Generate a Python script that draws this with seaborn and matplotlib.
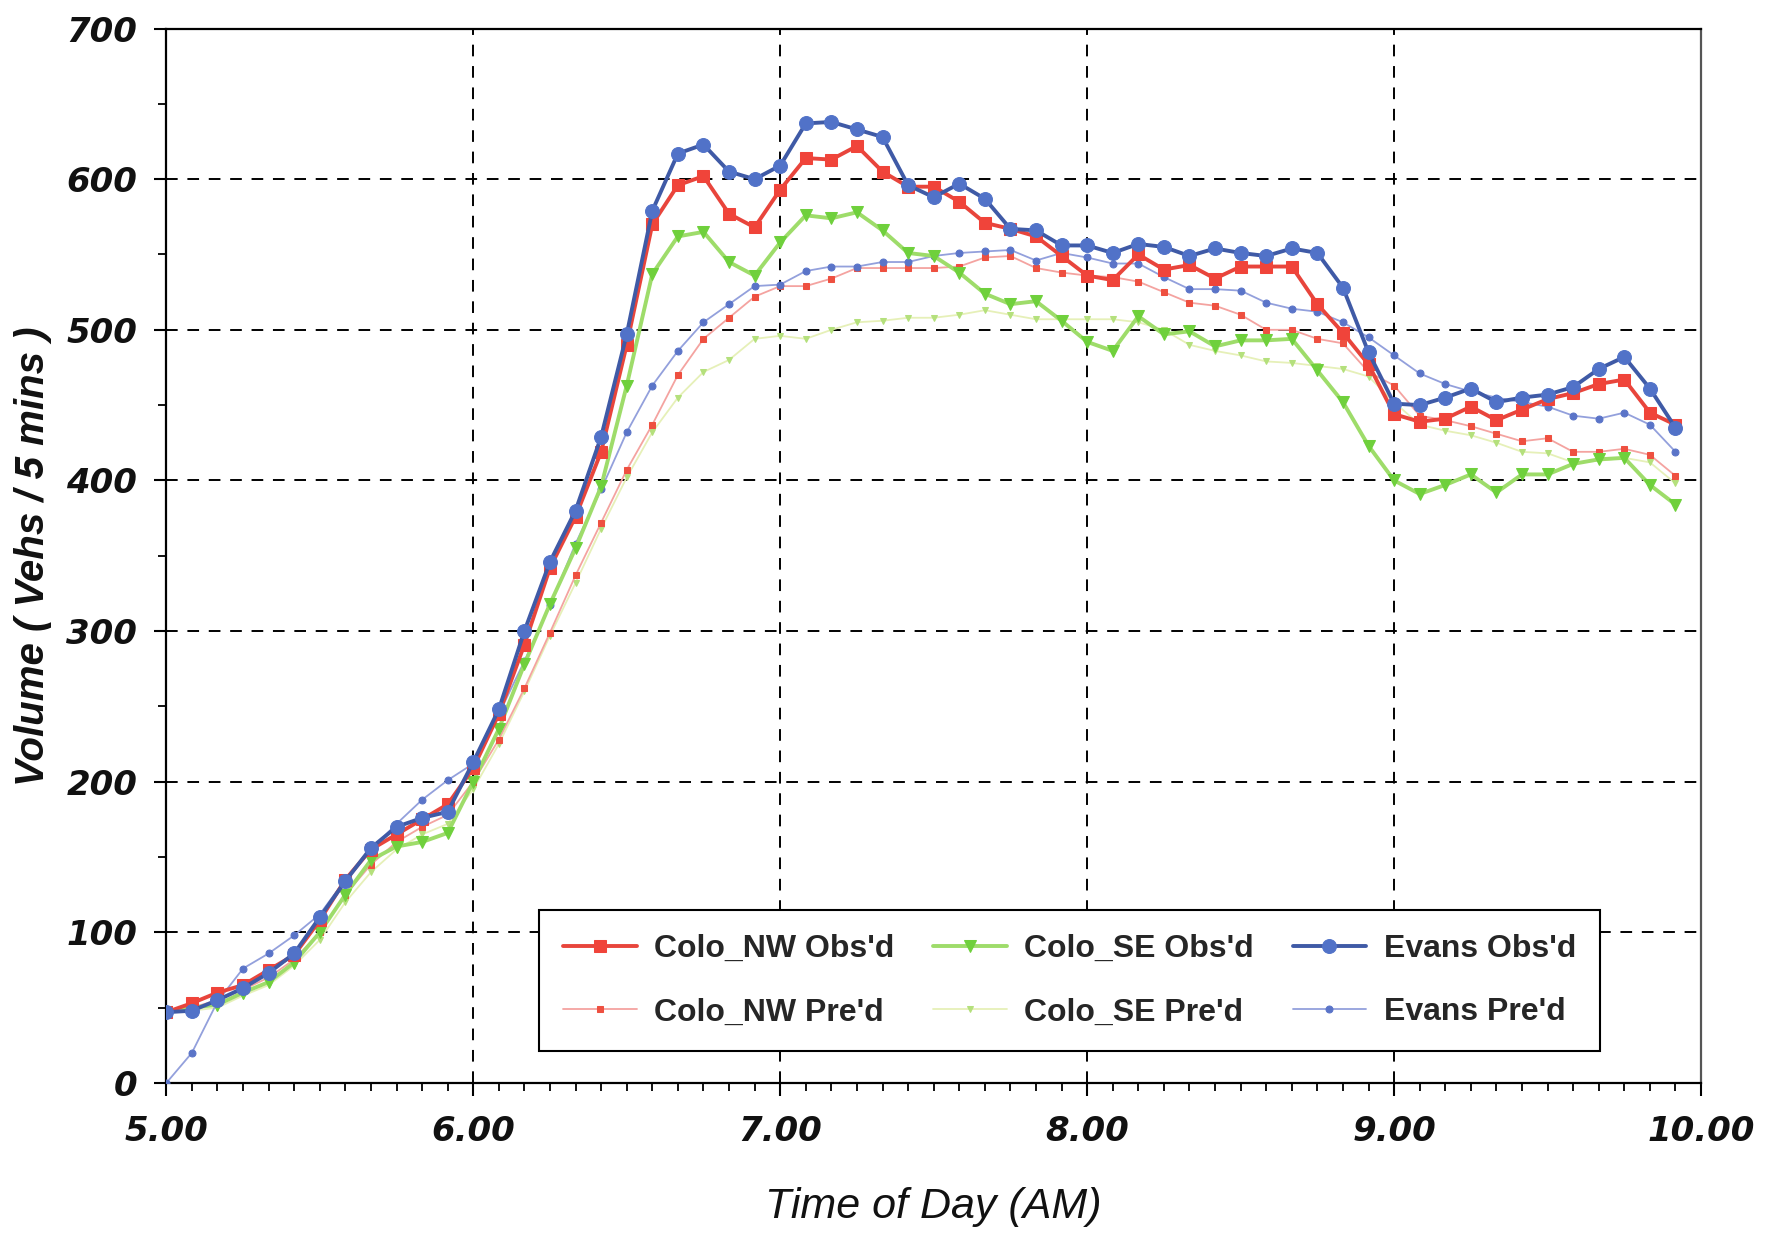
import numpy as np
import pandas as pd
import matplotlib
matplotlib.use("Agg")
import matplotlib.pyplot as plt
from matplotlib.ticker import MultipleLocator, FormatStrFormatter
import seaborn as sns

# ---------------- data (5-minute intervals from 5:00 to 9:55 AM) ----------------
minutes = list(range(0, 300, 5))
time_of_day = [5 + m / 60 for m in minutes]

colo_nw_obs = [47, 53, 60, 65, 75, 85, 108, 135, 155, 165, 175, 185, 209, 245, 291,
               342, 376, 419, 490, 570, 596, 602, 577, 568, 593, 614, 613, 622, 605, 595,
               595, 585, 571, 567, 562, 549, 536, 533, 550, 540, 543, 534, 542, 542, 542,
               517, 498, 477, 444, 439, 441, 449, 440, 447, 454, 458, 464, 467, 445, 437]
colo_se_obs = [47, 50, 52, 60, 67, 80, 100, 125, 148, 157, 160, 166, 200, 235, 278,
               318, 355, 396, 463, 537, 562, 565, 545, 536, 558, 576, 574, 578, 566, 551,
               549, 538, 524, 517, 519, 506, 492, 486, 509, 497, 499, 489, 493, 493, 494,
               473, 452, 423, 400, 391, 397, 404, 392, 404, 404, 411, 414, 415, 397, 384]
evans_obs = [47, 48, 55, 63, 73, 86, 110, 134, 156, 170, 176, 180, 213, 248, 300,
             346, 380, 429, 497, 579, 617, 623, 605, 600, 609, 637, 638, 633, 628, 596,
             588, 597, 587, 567, 566, 556, 556, 551, 557, 555, 549, 554, 551, 549, 554,
             551, 528, 485, 451, 450, 455, 461, 452, 455, 457, 462, 474, 482, 461, 435]
colo_nw_pred = [47, 50, 55, 62, 70, 82, 100, 125, 145, 160, 170, 178, 200, 228, 262,
                299, 337, 372, 407, 437, 470, 494, 508, 522, 529, 529, 534, 541, 541, 541,
                541, 542, 548, 549, 541, 538, 536, 535, 532, 525, 518, 516, 510, 500, 500,
                494, 491, 472, 463, 443, 440, 436, 431, 426, 428, 419, 419, 421, 417, 403]
colo_se_pred = [47, 48, 50, 58, 65, 78, 95, 120, 140, 155, 165, 172, 195, 225, 260,
                297, 332, 368, 402, 432, 455, 472, 480, 494, 496, 494, 500, 505, 506, 508,
                508, 510, 513, 510, 507, 507, 507, 507, 505, 500, 490, 486, 483, 479, 478,
                476, 474, 469, 452, 437, 433, 430, 425, 419, 418, 412, 413, 415, 412, 398]
evans_pred = [0, 20, 54, 76, 86, 98, 112, 135, 155, 172, 188, 201, 212, 245, 280,
              317, 358, 394, 432, 463, 486, 505, 517, 529, 530, 539, 542, 542, 545, 545,
              549, 551, 552, 553, 546, 551, 548, 544, 544, 535, 527, 527, 526, 518, 514,
              512, 505, 495, 483, 471, 464, 459, 455, 452, 449, 443, 441, 445, 437, 419]

series_labels = ["Colo_NW Obs'd", "Colo_NW Pre'd", "Colo_SE Obs'd",
                 "Colo_SE Pre'd", "Evans Obs'd", "Evans Pre'd"]
series_values = [colo_nw_obs, colo_nw_pred, colo_se_obs, colo_se_pred, evans_obs, evans_pred]

df = pd.DataFrame({"time": time_of_day * len(series_labels),
                   "volume": sum(series_values, []),
                   "series": np.repeat(series_labels, len(time_of_day))})

# ---------------- styling ----------------
styles = {
    "Colo_NW Obs'd": dict(color="#e8453c", marker="s", markersize=8.5, linewidth=2.8,
                          markerfacecolor="#f0443a", markeredgecolor="#f0443a"),
    "Colo_NW Pre'd": dict(color="#f4a3a0", marker="s", markersize=4.5, linewidth=1.3,
                          markerfacecolor="#ee5040", markeredgecolor="#ee5040"),
    "Colo_SE Obs'd": dict(color="#9edc6a", marker="v", markersize=9, linewidth=2.8,
                          markerfacecolor="#6fd03c", markeredgecolor="#6fd03c"),
    "Colo_SE Pre'd": dict(color="#e6f0b8", marker="v", markersize=5, linewidth=1.3,
                          markerfacecolor="#b4e07c", markeredgecolor="#b4e07c"),
    "Evans Obs'd": dict(color="#3f5aa6", marker="o", markersize=10, linewidth=2.8,
                        markerfacecolor="#5172c8", markeredgecolor="#5172c8"),
    "Evans Pre'd": dict(color="#93a0dc", marker="o", markersize=5, linewidth=1.3,
                        markerfacecolor="#5a74c8", markeredgecolor="#5a74c8"),
}
zorders = {"Colo_SE Pre'd": 2, "Colo_NW Pre'd": 3, "Evans Pre'd": 4,
           "Colo_SE Obs'd": 5, "Colo_NW Obs'd": 6, "Evans Obs'd": 7}

sns.set_theme(style="white")
plt.rcParams["font.family"] = ["DejaVu Sans"]

fig = plt.figure(figsize=(17.69, 12.40), dpi=100)
ax = fig.add_axes([0.094, 0.1266, 0.8676, 0.8504])

for name in series_labels:
    sub = df[df["series"] == name]
    sns.lineplot(data=sub, x="time", y="volume", ax=ax, label=name,
                 zorder=zorders[name], **styles[name])

ax.set_xlim(5, 10)
ax.set_ylim(0, 700)
ax.xaxis.set_major_locator(MultipleLocator(1))
ax.xaxis.set_minor_locator(MultipleLocator(1 / 12))
ax.yaxis.set_major_locator(MultipleLocator(100))
ax.yaxis.set_minor_locator(MultipleLocator(50))
ax.xaxis.set_major_formatter(FormatStrFormatter("%.2f"))

ax.grid(True, which="major", color="black", linestyle=(0, (6, 5)), linewidth=1.4)
ax.set_axisbelow(True)

for s in ax.spines.values():
    s.set_visible(True)
    s.set_color("black")
    s.set_linewidth(1.6)
ax.spines["right"].set_color("#555555")

ax.tick_params(axis="both", which="major", direction="out", length=9, width=1.5,
               color="black", bottom=True, left=True)
ax.tick_params(axis="both", which="minor", direction="out", length=6, width=1.3,
               color="black", bottom=True, left=True)
ax.tick_params(axis="x", which="major", pad=14)
ax.tick_params(axis="y", which="major", pad=12)
for lab in ax.get_xticklabels() + ax.get_yticklabels():
    lab.set_fontfamily("DejaVu Sans")
    lab.set_fontweight("bold")
    lab.set_fontstyle("italic")
    lab.set_fontsize(24.5)
    lab.set_color("#111111")

ax.set_xlabel("Time of Day (AM)", fontsize=31, fontstyle="italic",
              family="Liberation Sans", labelpad=28, color="#111111")
ax.set_ylabel("Volume ( Vehs / 5 mins )", fontsize=29, fontstyle="italic",
              fontweight="bold", family="Liberation Sans", labelpad=10, color="#111111")

handles, labels = ax.get_legend_handles_labels()
leg = ax.legend(handles, labels, ncol=3, loc="lower left",
                bbox_to_anchor=(0.243, 0.030, 0.691, 0.136), mode="expand",
                borderaxespad=0.0,
                frameon=True, fancybox=False, shadow=False, framealpha=1,
                edgecolor="black", borderpad=0.75, labelspacing=1.05,
                handlelength=2.3, handletextpad=0.55, columnspacing=0.8,
                prop={"family": "Liberation Sans", "weight": "bold", "size": 23})
leg.get_frame().set_linewidth(1.5)

fig.savefig("out.png", dpi=100, facecolor="white")
